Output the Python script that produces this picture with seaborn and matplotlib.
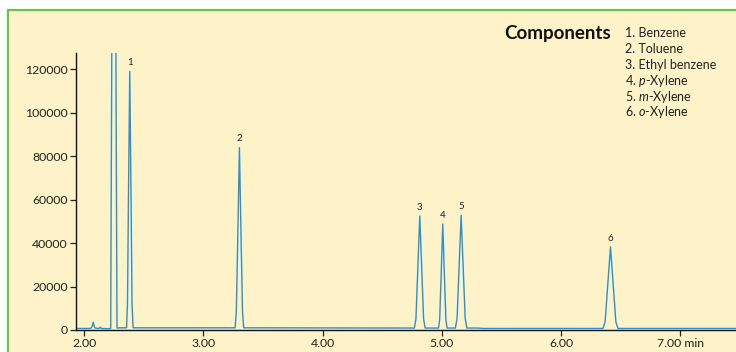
import numpy as np
import pandas as pd
import seaborn as sns
import matplotlib.pyplot as plt
from matplotlib.patches import Rectangle

# chromatogram trace (time in min, detector signal)
time_min = [1.931, 2.040, 2.060, 2.068, 2.075, 2.082, 2.090, 2.105, 2.125, 2.135, 2.145, 2.200, 2.222,
            2.232, 2.265, 2.275, 2.300, 2.355, 2.363, 2.371, 2.382, 2.393, 2.401, 2.410, 2.500,
            3.200, 3.266, 3.276, 3.288, 3.302, 3.316, 3.328, 3.338, 3.500,
            4.700, 4.770, 4.783, 4.797, 4.815, 4.833, 4.847, 4.860, 4.900,
            4.972, 4.982, 4.994, 5.008, 5.022, 5.034, 5.044, 5.080,
            5.114, 5.128, 5.143, 5.162, 5.181, 5.196, 5.210, 5.300, 5.350,
            6.300, 6.352, 6.370, 6.390, 6.415, 6.440, 6.460, 6.478, 6.600, 7.468]
signal = [700, 700, 900, 2000, 3600, 2000, 900, 800, 700, 1300, 700, 600, 700,
          140000, 140000, 900, 1000, 1000, 12000, 60000, 119000, 60000, 12000, 1000, 1000,
          1000, 1000, 8400, 42000, 84000, 42000, 8400, 1000, 1000,
          900, 900, 5200, 26000, 52500, 26000, 5200, 900, 900,
          900, 4900, 24400, 48800, 24400, 4900, 900, 900,
          900, 5300, 26400, 52800, 26400, 5300, 900, 900, 700,
          700, 700, 3800, 19200, 38300, 19200, 3800, 700, 700, 700]

peak_ids = ['1', '2', '3', '4', '5', '6']
peak_times = [2.382, 3.302, 4.815, 5.008, 5.162, 6.415]
peak_heights = [119000, 84000, 52500, 48800, 52800, 38300]

components = ['1. Benzene', '2. Toluene', '3. Ethyl benzene',
              '4. $p$-Xylene', '5. $m$-Xylene', '6. $o$-Xylene']

x_ticks = [2, 3, 4, 5, 6, 7]
x_labels = ['2.00', '3.00', '4.00', '5.00', '6.00', '7.00 min']
y_ticks = [0, 20000, 40000, 60000, 80000, 100000, 120000]

sns.set_theme(style='ticks')
plt.rcParams['font.family'] = ['Lato', 'DejaVu Sans']
plt.rcParams['mathtext.fontset'] = 'custom'
plt.rcParams['mathtext.rm'] = 'Lato'
plt.rcParams['mathtext.it'] = 'Lato:italic'

W, H = 736, 352
fig = plt.figure(figsize=(W / 100, H / 100), dpi=100)
fig.patch.set_facecolor('white')
bg = '#fdf2c8'
# panel with green border (left and top only visible)
fig.patches.append(Rectangle((8 / W, -0.1), 1.2, 1 - 10 / H + 0.1, transform=fig.transFigure,
                             facecolor=bg, edgecolor='#6cc24a', linewidth=1.6, zorder=-10))

ax = fig.add_axes([76 / W, 22 / H, 1 - 76 / W, (330 - 53) / H])
ax.set_facecolor('none')
ax.set_zorder(5)

df = pd.DataFrame({'time': time_min, 'signal': signal})
sns.lineplot(data=df, x='time', y='signal', estimator=None, sort=False,
             color='#2a90d0', linewidth=1.0, ax=ax)

for pid, t, h in zip(peak_ids, peak_times, peak_heights):
    ax.annotate(pid, (t, h), xytext=(0, 3), textcoords='offset points',
                ha='center', va='bottom', fontsize=7, color='#222222')

ax.set_xlim(1.931, 7.468)
ax.set_ylim(0, 127500)
ax.set_xticks(x_ticks)
ax.set_xticklabels(x_labels)
ax.set_yticks(y_ticks)
ax.set_xlabel('')
ax.set_ylabel('')
ax.tick_params(axis='both', labelsize=8.8, colors='#222222', length=4, width=0.9, pad=2)
for s in ['top', 'right']:
    ax.spines[s].set_visible(False)
for s in ['left', 'bottom']:
    ax.spines[s].set_color('#111111')
    ax.spines[s].set_linewidth(1.0)

fig.text(504 / W, 1 - 33 / H, 'Components', fontsize=13.5, fontweight='bold',
         color='#111111', va='center', ha='left', zorder=6)
for i, c in enumerate(components):
    fig.text(625 / W, 1 - (33 + 15.9 * i) / H, c, fontsize=9, color='#222222',
             va='center', ha='left', zorder=6)

fig.savefig('out.png', dpi=100, facecolor='white')
